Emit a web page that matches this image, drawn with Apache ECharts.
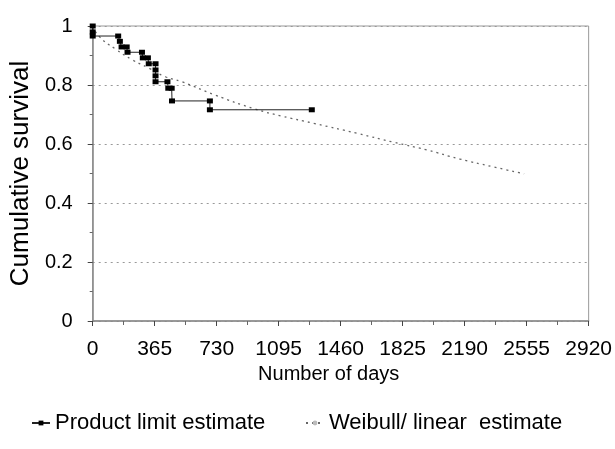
<!DOCTYPE html>
<html>
<head>
<meta charset="utf-8">
<script src="https://cdn.jsdelivr.net/npm/echarts@6/dist/echarts.min.js"></script>
<style>
html,body{margin:0;padding:0;background:#fff;}
#c{width:615px;height:449px;}
</style>
</head>
<body>
<div id="c"></div>
<script>
// Product limit (Kaplan-Meier) estimate: step vertices
var kmDays = [0, 0, 0, 150, 160, 170, 200, 205, 290, 295, 325, 330, 370, 370, 370, 370, 440, 445, 465, 467, 690, 690, 1290];
var kmSurv = [1.0, 0.98, 0.966, 0.966, 0.948, 0.929, 0.929, 0.911, 0.911, 0.892, 0.892, 0.872, 0.872, 0.851, 0.831, 0.811, 0.811, 0.789, 0.789, 0.746, 0.746, 0.716, 0.716];
// Weibull / linear estimate: points
var wbDays = [0, 39, 136, 234, 331, 428, 526, 720, 954, 1110, 1302, 1558, 1771, 1966, 2161, 2355, 2540];
var wbSurv = [1.0, 0.964, 0.921, 0.885, 0.857, 0.828, 0.811, 0.766, 0.719, 0.695, 0.670, 0.636, 0.606, 0.580, 0.549, 0.523, 0.499];
// Axis ticks
var xTicks = [0, 365, 730, 1095, 1460, 1825, 2190, 2555, 2920];
var yTicks = [0, 0.2, 0.4, 0.6, 0.8, 1];
var seriesNames = ['Product limit estimate', 'Weibull/ linear  estimate'];

function pairs(a, b) { return a.map(function (v, i) { return [v, b[i]]; }); }

var chart = echarts.init(document.getElementById('c'), null, {renderer: 'canvas'});
var font = 'Liberation Sans, Arial, sans-serif';
chart.setOption({
  animation: false,
  backgroundColor: '#fff',
  grid: {left: 90, right: 25, top: 26, bottom: 128, show: true, borderColor: '#999', borderWidth: 1, backgroundColor: 'transparent'},
  xAxis: {
    type: 'value', min: xTicks[0], max: xTicks[xTicks.length - 1], interval: 365,
    name: 'Number of days', nameLocation: 'middle', nameGap: 43,
    nameTextStyle: {fontFamily: font, fontSize: 20, color: '#000', padding: [0, 24, 0, 0]},
    axisLine: {show: true, lineStyle: {color: '#888', width: 1.5}},
    axisTick: {show: true, length: 5, lineStyle: {color: '#444'}},
    minorTick: {show: true, splitNumber: 2, length: 4, lineStyle: {color: '#666'}},
    axisLabel: {fontFamily: font, fontSize: 21, color: '#000', margin: 18,
      formatter: function (v) { return String(v); }},
    splitLine: {show: false}
  },
  yAxis: {
    type: 'value', min: yTicks[0], max: yTicks[yTicks.length - 1], interval: 0.2,
    name: 'Cumulative survival', nameLocation: 'middle', nameGap: 57,
    nameTextStyle: {fontFamily: font, fontSize: 26, color: '#000'},
    axisLine: {show: true, lineStyle: {color: '#888', width: 1.5}},
    axisTick: {show: true, length: 5, lineStyle: {color: '#444'}},
    minorTick: {show: true, splitNumber: 2, length: 3, lineStyle: {color: '#666'}},
    axisLabel: {fontFamily: font, fontSize: 20, color: '#000', margin: 20,
      formatter: function (v) { return String(+v.toFixed(1)); }},
    splitLine: {show: true, lineStyle: {color: '#999', type: [2, 4], width: 1}}
  },
  legend: [
    {left: 26, top: 407, data: [seriesNames[0]], itemWidth: 18, itemHeight: 6, itemGap: 4,
     textStyle: {fontFamily: font, fontSize: 22, color: '#000'}},
    {left: 300, top: 407, data: [seriesNames[1]], itemWidth: 18, itemHeight: 6,
     textStyle: {fontFamily: font, fontSize: 22, color: '#000'}}
  ],
  series: [
    {
      name: seriesNames[1], type: 'line', data: pairs(wbDays, wbSurv),
      smooth: true, showSymbol: false, symbol: 'none',
      lineStyle: {color: '#666', width: 1.3, type: [2, 4]},
      itemStyle: {color: '#bbb'}, z: 2
    },
    {
      name: seriesNames[0], type: 'line', data: pairs(kmDays, kmSurv),
      symbol: 'rect', symbolSize: [6, 5],
      lineStyle: {color: '#222', width: 1},
      itemStyle: {color: '#000'}, z: 3
    }
  ]
});
</script>
</body>
</html>
